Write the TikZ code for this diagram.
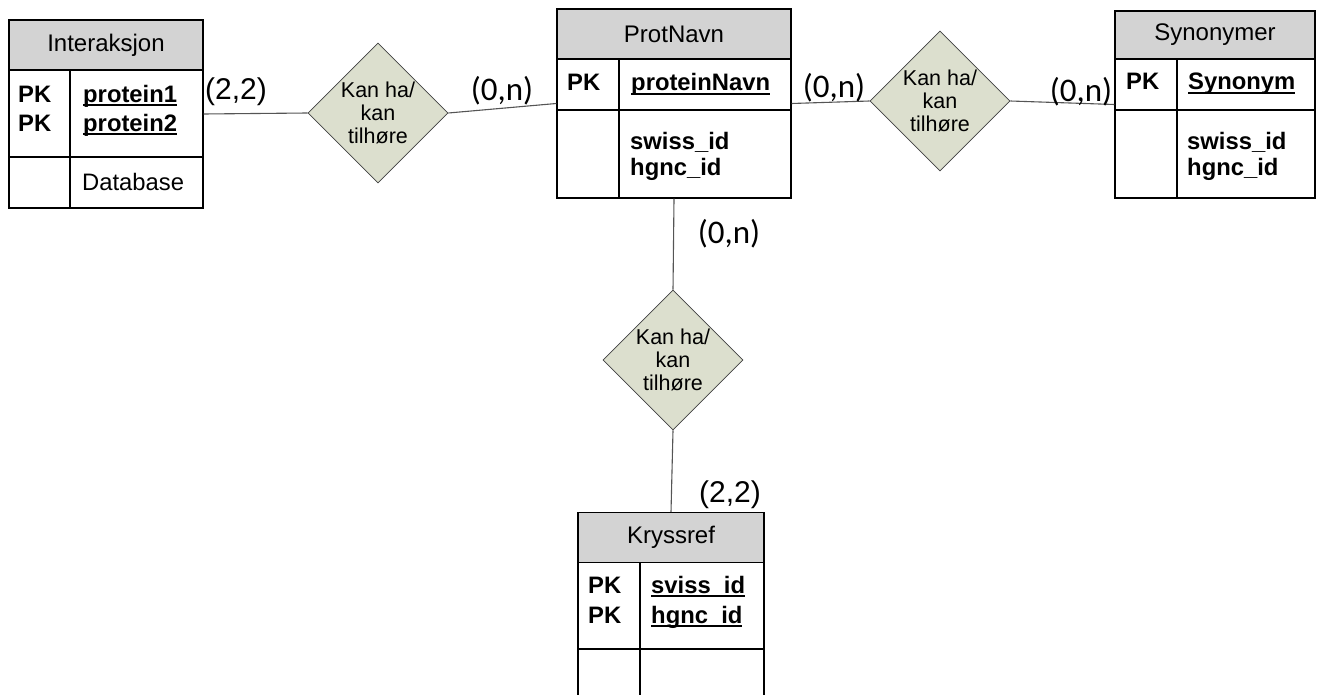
\documentclass[tikz,border=0pt]{standalone}
\usepackage{fontspec}
\setmainfont{Liberation Sans}
\newfontfamily\calfont{Carlito}
\usetikzlibrary{shapes.geometric}
\definecolor{hdrfill}{RGB}{211,211,211}
\definecolor{diafill}{RGB}{220,223,206}
\definecolor{lncol}{RGB}{85,85,85}
\newcommand\ulx[1]{\setbox0=\hbox{#1}\rlap{\rule[-3.6pt]{\wd0}{1.7pt}}\box0}
\newcommand\hdrfont{\fontsize{24}{28}\selectfont}
\newcommand\keyfont{\bfseries\fontsize{23.8}{28}\selectfont}
\begin{document}
\begin{tikzpicture}[x=1pt,y=-1pt,
  tbl/.style={draw=black, line width=1.4pt, rectangle, inner sep=0pt},
  hdr/.style={draw=black, line width=1.4pt, rectangle, fill=hdrfill, inner sep=0pt, font=\hdrfont},
  tline/.style={draw=black, line width=1.4pt},
  rel/.style={diamond, draw=black!75, line width=0.8pt, fill=diafill, minimum width=140pt, minimum height=140pt, inner sep=0pt, align=center, font=\fontsize{21.5}{23}\selectfont},
  conn/.style={draw=lncol, line width=1.1pt},
  txt/.style={anchor=base west, inner sep=0pt, font=\keyfont},
  plain/.style={anchor=base west, inner sep=0pt, font=\fontsize{23.8}{28}\selectfont},
  cardA/.style={inner sep=0pt, font=\fontsize{30}{34}\selectfont},
  cardC/.style={inner sep=0pt, font=\calfont\fontsize{33}{36}\selectfont}
]
\useasboundingbox (0,0) rectangle (1322,695);
\clip (0,0) rectangle (1322,695);

% ---------- Interaksjon ----------
\node[tbl, minimum width=194pt, minimum height=188pt] (inter) at (106,114) {};
\node[hdr, minimum width=194pt, minimum height=50pt, anchor=north] (interH) at (inter.north) {Interaksjon};
\draw[tline] (9,157) -- (203,157);
\draw[tline] (70,70) -- (70,208);
\node[txt] (interPK1) at (18,102.5) {PK};
\node[txt] (interPK2) at (18,131.5) {PK};
\node[txt] (interA1) at (83,102.5) {\ulx{protein1}};
\node[txt] (interA2) at (83,131.5) {\ulx{protein2}};
\node[plain] (interA3) at (82,191) {Database};

% ---------- ProtNavn ----------
\node[tbl, minimum width=234pt, minimum height=189pt] (prot) at (674,103.5) {};
\node[hdr, minimum width=234pt, minimum height=50pt, anchor=north] (protH) at (prot.north) {ProtNavn};
\draw[tline] (557,110) -- (791,110);
\draw[tline] (619,59) -- (619,198);
\node[txt] (protPK) at (567,91) {PK};
\node[txt] (protA1) at (631,91) {\ulx{proteinNavn}};
\node[txt] (protA2) at (630,150) {swiss\_id};
\node[txt] (protA3) at (630,176) {hgnc\_id};

% ---------- Synonymer ----------
\node[tbl, minimum width=200pt, minimum height=187pt] (syn) at (1215,104.5) {};
\node[hdr, minimum width=200pt, minimum height=48pt, anchor=north] (synH) at (syn.north) {Synonymer};
\draw[tline] (1115,110) -- (1315,110);
\draw[tline] (1177,59) -- (1177,198);
\node[txt] (synPK) at (1126,90) {PK};
\node[txt] (synA1) at (1188,90) {\ulx{Synonym}};
\node[txt] (synA2) at (1187,150) {swiss\_id};
\node[txt] (synA3) at (1187,176) {hgnc\_id};

% ---------- Kryssref ----------
\node[tbl, minimum width=186pt, minimum height=200pt, anchor=north] (kryss) at (671,512) {};
\node[hdr, minimum width=186pt, minimum height=50pt, anchor=north] (kryssH) at (kryss.north) {Kryssref};
\draw[tline] (578,649) -- (764,649);
\draw[tline] (640,562) -- (640,712);
\node[txt] (kryssPK1) at (588,593) {PK};
\node[txt] (kryssPK2) at (588,623) {PK};
\node[txt] (kryssA1) at (651,593) {\ulx{sviss\_id}};
\node[txt] (kryssA2) at (651,623) {\ulx{hgnc\_id}};

% ---------- relationships ----------
\node[rel] (d1) at (378,113) {Kan ha/\\kan\\tilhøre};
\node[rel] (d2) at (940,101) {Kan ha/\\kan\\tilhøre};
\node[rel] (d3) at (673,360) {Kan ha/\\kan\\tilhøre};

% ---------- connectors ----------
\draw[conn] (inter.east) -- (d1.west);
\draw[conn] (d1.east) -- (prot.west);
\draw[conn] (prot.east) -- (d2.west);
\draw[conn] (d2.east) -- (syn.west);
\draw[conn] (prot.south) -- (d3.north);
\draw[conn] (d3.south) -- (kryss.north);

% ---------- cardinalities ----------
\node[cardA] (c1) at (236,92) {(2,2)};
\node[cardC] (c2) at (502,91) {(0,n)};
\node[cardC] (c3) at (834,88) {(0,n)};
\node[cardC] (c4) at (1081,91.5) {(0,n)};
\node[cardC] (c5) at (729,234) {(0,n)};
\node[cardA] (c6) at (730,495) {(2,2)};
\end{tikzpicture}
\end{document}
